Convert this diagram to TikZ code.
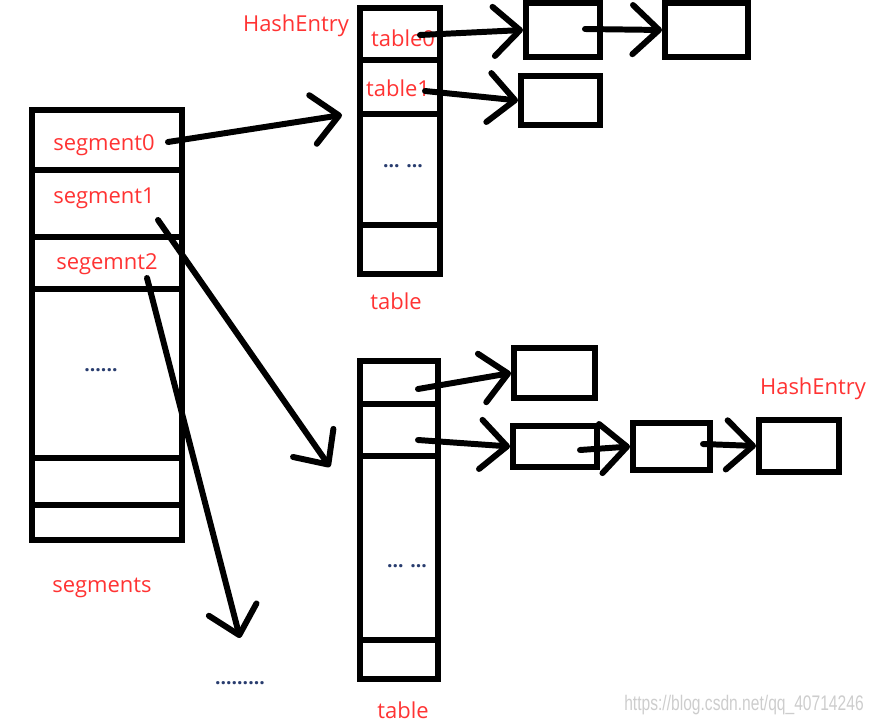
\documentclass[tikz,border=0pt]{standalone}
\usepackage{fontspec}
\setmainfont{Open Sans}
\newfontfamily\markfont{Liberation Sans}
\usetikzlibrary{arrows.meta}
\definecolor{labelred}{RGB}{255,51,51}
\definecolor{dotblue}{RGB}{40,60,110}
\definecolor{markgray}{RGB}{205,205,205}
\tikzset{>={Straight Barb[length=15pt,width=28pt,round]}}

\begin{document}
\begin{tikzpicture}[x=0.02cm,y=-0.02cm,
thickline/.style={line width=3.4pt},
column/.style={rectangle, draw, thickline, inner sep=0pt},
entry/.style={rectangle, draw, thickline, inner sep=0pt},
redtext/.style={text=labelred, font=\fontsize{12.5}{15}\selectfont, inner sep=0pt, yshift=-0.06cm},
dottext/.style={text=dotblue, font=\fontsize{11}{13}\selectfont\bfseries, inner sep=0pt},
link/.style={->, thickline, line cap=round, line join=round},
]
\useasboundingbox (0,0) rectangle (875,723);

%Columns
\node[column, minimum width=3.0cm, minimum height=8.6cm](Segments) at (107,325){};
\node[column, minimum width=1.6cm, minimum height=5.32cm](Top Table) at (400,141){};
\node[column, minimum width=1.56cm, minimum height=6.36cm](Bottom Table) at (399,520){};
\foreach \y in {170,237,289,458,505}
  \draw[thickline] (Segments.west |- 0,\y) -- (Segments.east |- 0,\y);
\foreach \y in {60,114,225}
  \draw[thickline] (Top Table.west |- 0,\y) -- (Top Table.east |- 0,\y);
\foreach \y in {404,456,640}
  \draw[thickline] (Bottom Table.west |- 0,\y) -- (Bottom Table.east |- 0,\y);

%Entries
\node[entry, minimum width=1.48cm, minimum height=1.08cm](Entry00) at (563,30){};
\node[entry, minimum width=1.66cm, minimum height=1.08cm](Entry01) at (706.5,30){};
\node[entry, minimum width=1.58cm, minimum height=0.98cm](Entry10) at (560.5,100.5){};
\node[entry, minimum width=1.62cm, minimum height=1.0cm](Entry20) at (554.5,373){};
\node[entry, minimum width=1.68cm, minimum height=0.82cm](Entry30) at (555,446.5){};
\node[entry, minimum width=1.54cm, minimum height=0.94cm](Entry31) at (671.5,446.5){};
\node[entry, minimum width=1.6cm, minimum height=1.04cm](Entry32) at (799,446){};

%Texts
\node[redtext](Segment0) at (104,142){segment0};
\node[redtext](Segment1) at (104,195){segment1};
\node[redtext](Segment2) at (107,261){segemnt2};
\node[dottext](Segment Dots) at (101,370){......};
\node[redtext](Segments Label) at (102,585){segments};
\node[redtext](Top HashEntry) at (296,23){HashEntry};
\node[redtext](Table0) at (403,35){table0};
\node[redtext](Table1) at (398,85){table1};
\node[dottext](Top Dots) at (403,166){... ...};
\node[redtext](Top Table Label) at (396,298){table};
\node[dottext](Bottom Dots) at (407,566){... ...};
\node[redtext](Bottom Table Label) at (403,707){table};
\node[redtext](Right HashEntry) at (813,386){HashEntry};
\node[dottext](More Dots) at (240,683){.........};
\node[text=markgray, font=\markfont\fontsize{12}{14}\selectfont, xscale=0.74, inner sep=0pt](Mark) at (744,705){https://blog.csdn.net/qq\_40714246};

%Ends
\coordinate (Seg0 Out) at (168,142);
\coordinate (Seg1 Out) at (158,220);
\coordinate (Seg2 Out) at (147,278);
\coordinate (Top Table In) at (342,115);
\coordinate (Bottom Table In) at (330,467);
\coordinate (More In) at (240,638);
\coordinate (Table0 Out) at (420,35);
\coordinate (Entry00 Out) at (585,29);
\coordinate (Table1 Out) at (425,91);
\coordinate (Row0 Out) at (418,389);
\coordinate (Row1 Out) at (418,440);
\coordinate (Entry30 Out) at (580,450);
\coordinate (Entry31 Out) at (703,444);

%Lines
\draw[link] (Seg0 Out) -- (Top Table In);
\draw[link] (Seg1 Out) -- (Bottom Table In);
\draw[link] (Seg2 Out) -- (More In);
\draw[link] (Table0 Out) -- (Entry00.west);
\draw[link] (Entry00 Out) -- (Entry01.west);
\draw[link] (Table1 Out) -- (Entry10.west);
\draw[link] (Row0 Out) -- (Entry20.west);
\draw[link] (Row1 Out) -- (Entry30.west);
\draw[link] (Entry30 Out) -- (Entry31.west);
\draw[link] (Entry31 Out) -- (Entry32.west);
\end{tikzpicture}
\end{document}
